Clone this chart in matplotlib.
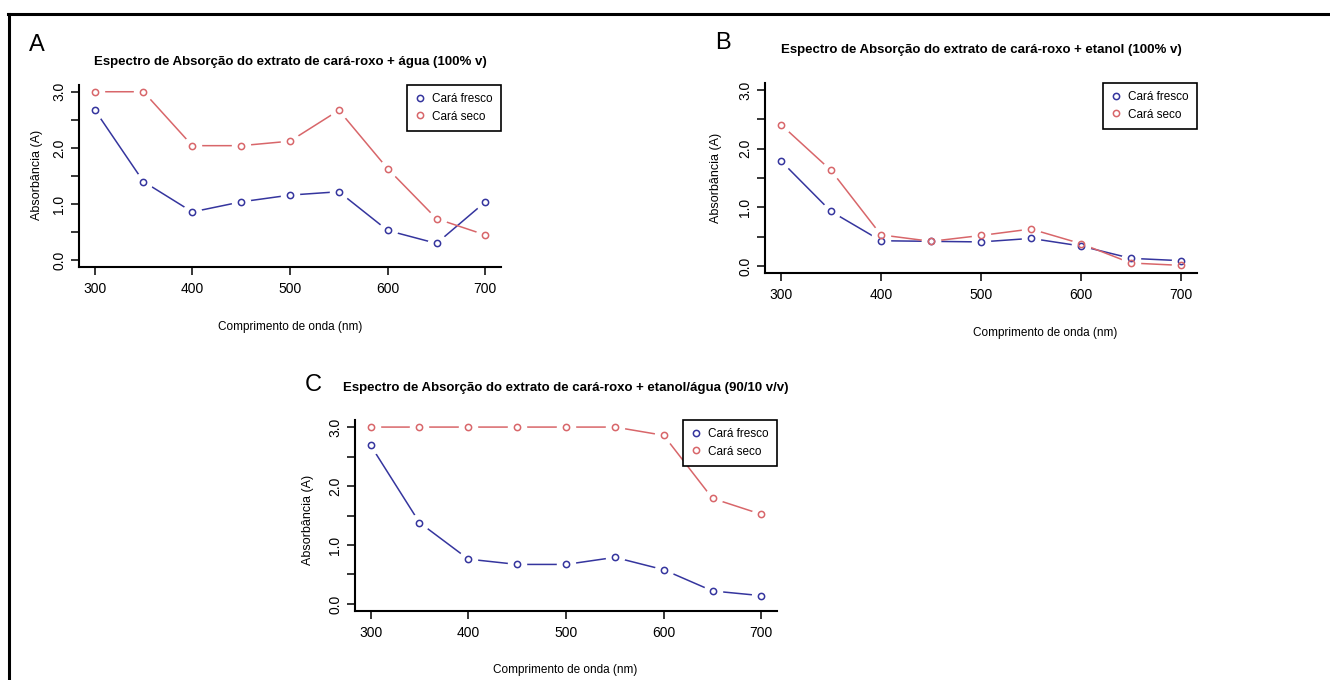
import numpy as np
import matplotlib
matplotlib.use("Agg")
import matplotlib.pyplot as plt
from matplotlib.lines import Line2D

plt.rcParams['font.family'] = ['Liberation Sans', 'DejaVu Sans']

# wavelengths (nm)
wavelength = [300, 350, 400, 450, 500, 550, 600, 650, 700]

# A: água (100% v)
agua_fresco = [2.68, 1.40, 0.86, 1.04, 1.16, 1.22, 0.53, 0.30, 1.04]
agua_seco = [3.00, 3.00, 2.04, 2.04, 2.12, 2.67, 1.63, 0.74, 0.45]

# B: etanol (100% v)
etanol_fresco = [1.79, 0.93, 0.43, 0.42, 0.41, 0.47, 0.34, 0.13, 0.09]
etanol_seco = [2.41, 1.63, 0.53, 0.42, 0.52, 0.63, 0.38, 0.05, 0.01]

# C: etanol/água (90/10 v/v)
mix_fresco = [2.69, 1.38, 0.76, 0.67, 0.67, 0.79, 0.58, 0.22, 0.14]
mix_seco = [3.00, 3.00, 3.00, 3.00, 3.00, 3.00, 2.86, 1.79, 1.52]

titles = ["Espectro de Absorção do extrato de cará-roxo + água (100% v)",
          "Espectro de Absorção do extrato de cará-roxo + etanol (100% v)",
          "Espectro de Absorção do extrato de cará-roxo + etanol/água (90/10 v/v)"]
series_names = ["Cará fresco", "Cará seco"]

W, H = 1330, 680
BLUE = '#35359e'
RED = '#d8666a'

fig = plt.figure(figsize=(W / 100, H / 100), dpi=100)


def px_axes(l, r, t, b):
    return fig.add_axes([l / W, 1 - b / H, (r - l) / W, (b - t) / H])


def panel(box, fresco, seco, title, title_xy, xlab_xy, ylab_xy, letter, letter_xy):
    ax = px_axes(*box)
    for vals, col, name in [(fresco, BLUE, series_names[0]), (seco, RED, series_names[1])]:
        ax.plot(wavelength, vals, color=col, lw=1.1, zorder=1)
        # white halo to mimic R type="b" gaps (kept under the spines)
        ax.plot(wavelength, vals, ls='none', marker='o', ms=13, mfc='white', mec='white',
                zorder=1.5)
        ax.plot(wavelength, vals, ls='none', marker='o', ms=4.5, mfc='none', mec=col, mew=1.1,
                zorder=4, label=name)
    ax.set_xlim(284, 716)
    ax.set_ylim(-0.12, 3.12)
    ax.set_xticks([300, 400, 500, 600, 700])
    ax.set_yticks(np.arange(0, 3.01, 0.5))
    ax.set_yticklabels(["0.0", "", "1.0", "", "2.0", "", "3.0"], rotation=90, va='center')
    ax.spines['top'].set_visible(False)
    ax.spines['right'].set_visible(False)
    for s in ['left', 'bottom']:
        ax.spines[s].set_linewidth(1.5)
    ax.tick_params(direction='out', length=6, width=1.1, labelsize=10)
    ax.tick_params(axis='y', pad=3)
    ax.tick_params(axis='x', pad=5)
    leg = ax.legend(loc='upper right', borderaxespad=0, fontsize=8.5, handlelength=0.8,
                    handletextpad=0.6, fancybox=False, framealpha=1, edgecolor='black',
                    borderpad=0.7, labelspacing=0.45)
    leg.get_frame().set_linewidth(1.2)
    fig.text(title_xy[0] / W, 1 - title_xy[1] / H, title, ha='center', va='center',
             fontsize=9.5, fontweight='bold')
    fig.text(xlab_xy[0] / W, 1 - xlab_xy[1] / H, "Comprimento de onda (nm)", ha='center',
             va='center', fontsize=8.5)
    fig.text(ylab_xy[0] / W, 1 - ylab_xy[1] / H, "Absorbância (A)", ha='center', va='center',
             fontsize=9, rotation=90)
    fig.text(letter_xy[0] / W, 1 - letter_xy[1] / H, letter, ha='center', va='center',
             fontsize=17)
    return ax


panel((79, 501, 85, 267), agua_fresco, agua_seco, titles[0], (290, 62), (290, 327), (37, 175),
      "A", (37, 45))
panel((765, 1197, 83, 273), etanol_fresco, etanol_seco, titles[1], (981, 50), (1045, 333),
      (716, 178), "B", (723, 43))
panel((355, 777, 420, 611), mix_fresco, mix_seco, titles[2], (566, 388), (565, 670), (308, 520),
      "C", (313, 385))

# outer frame (top and left edges)
fig.add_artist(Line2D([8 / W, 1], [1 - 14 / H, 1 - 14 / H], color='black', lw=2.2,
                      transform=fig.transFigure))
fig.add_artist(Line2D([9 / W, 9 / W], [0, 1 - 14 / H], color='black', lw=2.2,
                      transform=fig.transFigure))

fig.savefig("out.png", dpi=100)
